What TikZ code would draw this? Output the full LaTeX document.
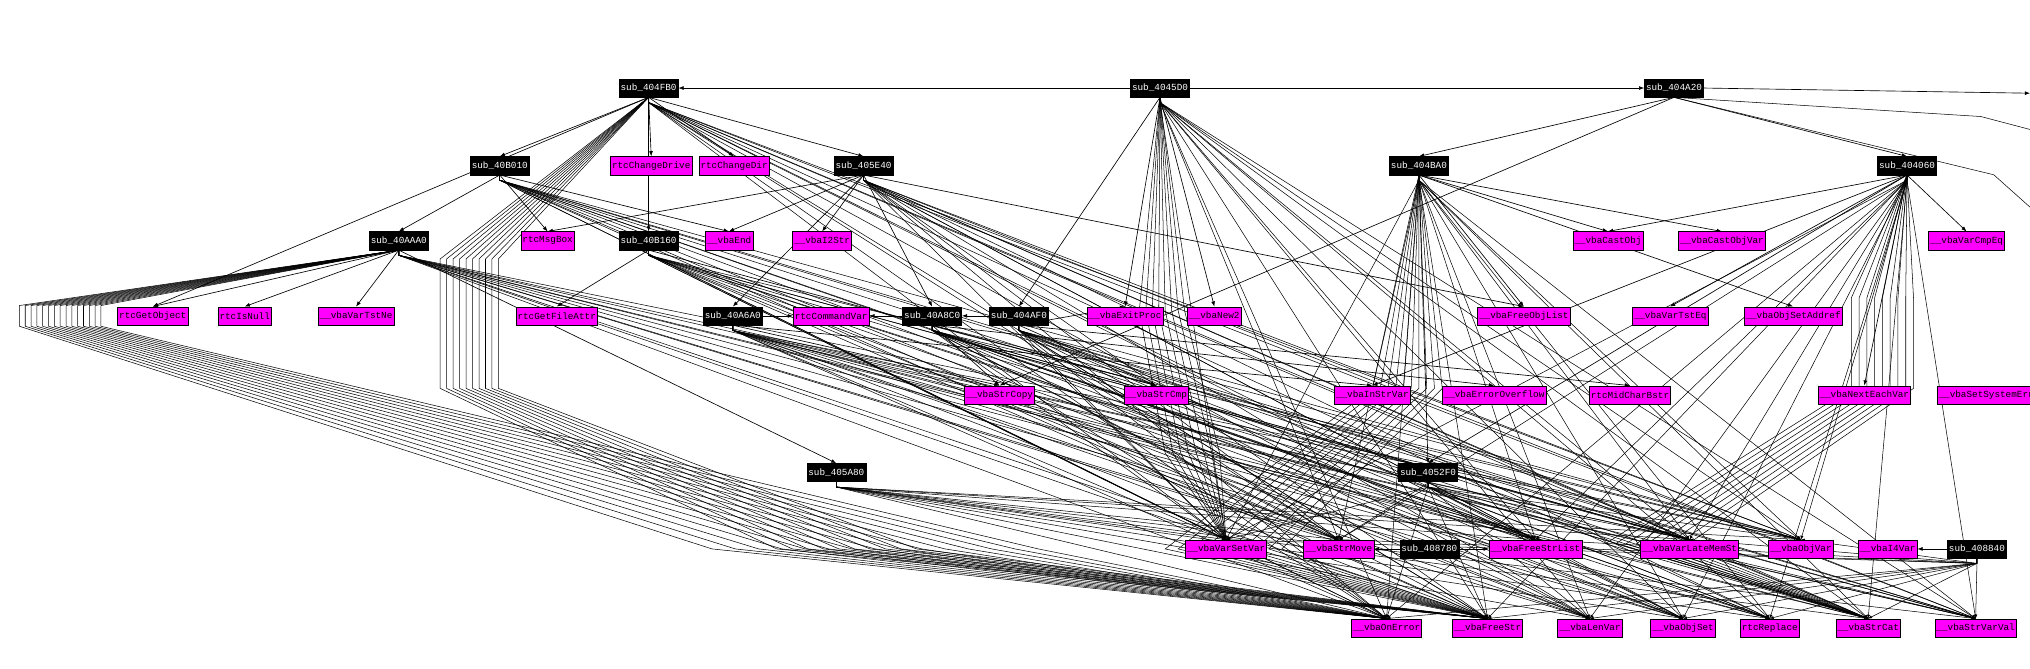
\documentclass[tikz,border=0pt]{standalone}
\usepackage{fontspec}
\setmainfont{Liberation Mono}
\usetikzlibrary{arrows.meta,backgrounds}
\definecolor{mag}{RGB}{255,0,255}
\begin{document}
\begin{tikzpicture}[x=1pt,y=-1pt,
 base/.style={draw=black,rectangle,minimum height=14pt,inner xsep=1.2pt,inner ysep=0pt,font=\fontsize{7.2}{7.2}\selectfont},
 sub/.style={base,fill=black,text=white},
 lib/.style={base,fill=mag,text=black},
 e/.style={draw=black,line width=0.5pt,-{Latex[length=4pt,width=3pt]}},
 f/.style={draw=black,line width=0.4pt}]
\useasboundingbox (0,0) rectangle (1568,516);
\clip (0,0) rectangle (1568,516);
% row 1
\node[sub] (s404FB0) at (501,68) {sub\_404FB0};
\node[sub] (s4045D0) at (896,68) {sub\_4045D0};
\node[sub] (s404A20) at (1293,68) {sub\_404A20};
% row 2
\node[sub] (s40B010) at (386,128) {sub\_40B010};
\node[lib] (rChDrive) at (503,128) {rtcChangeDrive};
\node[lib] (rChDir) at (567,128) {rtcChangeDir};
\node[sub] (s405E40) at (667,128) {sub\_405E40};
\node[sub] (s404BA0) at (1096,128) {sub\_404BA0};
\node[sub] (s404060) at (1473,128) {sub\_404060};
% row 3
\node[sub] (s40AAA0) at (308,186) {sub\_40AAA0};
\node[lib] (rMsgBox) at (423,186) {rtcMsgBox};
\node[sub] (s40B160) at (501,186) {sub\_40B160};
\node[lib] (vEnd) at (563,186) {\_\_vbaEnd};
\node[lib] (vI2Str) at (635,186) {\_\_vbaI2Str};
\node[lib] (vCastObj) at (1242,186) {\_\_vbaCastObj};
\node[lib] (vCastObjVar) at (1330,186) {\_\_vbaCastObjVar};
\node[lib] (vVarCmpEq) at (1519,186) {\_\_vbaVarCmpEq};
% row 4
\node[lib] (rGetObject) at (118,244) {rtcGetObject};
\node[lib] (rIsNull) at (189,244) {rtcIsNull};
\node[lib] (vVarTstNe) at (275,244) {\_\_vbaVarTstNe};
\node[lib] (rGetFileAttr) at (430,244) {rtcGetFileAttr};
\node[sub] (s40A6A0) at (566,244) {sub\_40A6A0};
\node[lib] (rCommandVar) at (642,244) {rtcCommandVar};
\node[sub] (s40A8C0) at (720,244) {sub\_40A8C0};
\node[sub] (s404AF0) at (787,244) {sub\_404AF0};
\node[lib] (vExitProc) at (869,244) {\_\_vbaExitProc};
\node[lib] (vNew2) at (938,244) {\_\_vbaNew2};
\node[lib] (vFreeObjList) at (1177,244) {\_\_vbaFreeObjList};
\node[lib] (vVarTstEq) at (1290,244) {\_\_vbaVarTstEq};
\node[lib] (vObjSetAddref) at (1385,244) {\_\_vbaObjSetAddref};
% row 5
\node[lib] (vStrCopy) at (772,305) {\_\_vbaStrCopy};
\node[lib] (vStrCmp) at (893,305) {\_\_vbaStrCmp};
\node[lib] (vInStrVar) at (1060,305) {\_\_vbaInStrVar};
\node[lib] (vErrOvf) at (1154,305) {\_\_vbaErrorOverflow};
\node[lib] (rMidCharBstr) at (1259,305) {rtcMidCharBstr};
\node[lib] (vNextEachVar) at (1440,305) {\_\_vbaNextEachVar};
\node[lib,anchor=west] (vSetSysErr) at (1496,305) {\_\_vbaSetSystemError};
% row 6
\node[sub] (s405A80) at (646,365) {sub\_405A80};
\node[sub] (s4052F0) at (1103,365) {sub\_4052F0};
% row 7
\node[lib] (vVarSetVar) at (947,424) {\_\_vbaVarSetVar};
\node[lib] (vStrMove) at (1034,424) {\_\_vbaStrMove};
\node[sub] (s408780) at (1104,424) {sub\_408780};
\node[lib] (vFreeStrList) at (1186,424) {\_\_vbaFreeStrList};
\node[lib] (vVarLateMemSt) at (1305,424) {\_\_vbaVarLateMemSt};
\node[lib] (vObjVar) at (1391,424) {\_\_vbaObjVar};
\node[lib] (vI4Var) at (1458,424) {\_\_vbaI4Var};
\node[sub] (s408840) at (1527,424) {sub\_408840};
% row 8
\node[lib] (vOnError) at (1071,485) {\_\_vbaOnError};
\node[lib] (vFreeStr) at (1149,485) {\_\_vbaFreeStr};
\node[lib] (vLenVar) at (1228,485) {\_\_vbaLenVar};
\node[lib] (vObjSet) at (1300,485) {\_\_vbaObjSet};
\node[lib] (rReplace) at (1367,485) {rtcReplace};
\node[lib] (vStrCat) at (1443,485) {\_\_vbaStrCat};
\node[lib] (vStrVarVal) at (1526,485) {\_\_vbaStrVarVal};
\coordinate (rOut1) at (1568,72);
\coordinate (rOut2) at (1568,100);
\coordinate (rOut3) at (1568,160);
\begin{scope}[on background layer]
\fill[white] (0,0) rectangle (1568,516);
% same-row edges
\draw[e] (s4045D0) -- (s404FB0);
\draw[e] (s4045D0) -- (s404A20);
\draw[e] (s40A6A0) -- (rCommandVar);
\draw[e] (s40A8C0) -- (rCommandVar);
\draw[e] (s404AF0) -- (s40A8C0);
\draw[e] (s408780) -- (vStrMove);
\draw[e] (s408780) -- (vFreeStrList);
\draw[e] (s408840) -- (vI4Var);
% downward edges
\foreach \a/\b in {s404FB0/s40B010,s404FB0/rChDrive,s404FB0/rChDir,s404FB0/s405E40,s404FB0/s40B160,s404FB0/rGetObject,
 s40B010/s40AAA0,s40B010/rMsgBox,s40B010/vEnd,s405E40/rMsgBox,s405E40/vEnd,s405E40/vI2Str,s405E40/s40A8C0,s405E40/s40A6A0,
 s40AAA0/rGetObject,s40AAA0/rIsNull,s40AAA0/vVarTstNe,s40B160/rGetFileAttr,s4045D0/s404AF0,s4045D0/vNew2,s4045D0/vExitProc,
 s404A20/s404BA0,s404A20/s404060,s404A20/vStrCopy,s404BA0/vCastObj,s404BA0/vCastObjVar,s404BA0/vObjSetAddref,s404BA0/vFreeObjList,
 s404060/vCastObj,s404060/vVarCmpEq,s404060/vVarTstEq,s404060/vInStrVar,s404060/vNextEachVar,
 s40A8C0/vStrCopy,s40A8C0/vStrCmp,s404AF0/vStrCmp,s404AF0/vExitProc,s40A6A0/vStrCopy,s40A6A0/vInStrVar,s40A8C0/vErrOvf,s404AF0/rMidCharBstr,
 s40AAA0/s405A80,s405E40/vFreeObjList,s404BA0/s4052F0,s404060/s4052F0,s40B160/vStrCmp}
 \draw[e] (\a.south) -- (\b.north);
% dense bundles to lower rows
\foreach \a in {s404FB0,s40B010,s405E40,s40AAA0,s40B160,s40A6A0,s40A8C0,s404AF0,s4045D0,s404BA0,s404060,s405A80,s4052F0,s408840}
 \foreach \b in {vVarSetVar,vStrMove,vFreeStrList,vVarLateMemSt,vObjVar,vOnError,vFreeStr,vLenVar,vObjSet,rReplace,vStrCat,vStrVarVal}
  \draw[f,-{Latex[length=3pt,width=2.5pt]}] (\a.south) -- ++(0,4) -- (\b.north);
% bundles
\foreach \i in {0,...,14}
 \draw[f] (s40AAA0.south) -- (15+\i*4.5,236) -- (15+\i*4.5,252) -- (550+\i*18,424) -- (vOnError.north);
\foreach \i in {0,...,9}
 \draw[f] (s404FB0.south) -- (340+\i*5,200) -- (340+\i*5,300) -- (600+\i*12,424) -- (vFreeStr.north);
\foreach \i in {0,...,9}
 \draw[f] (s404BA0.south) -- (1060+\i*6,300) -- (900+\i*10,424) -- (vFreeStr.north);
\foreach \i in {0,...,8}
 \draw[f] (s404060.south) -- (1430+\i*6,230) -- (1430+\i*6,300) -- (1240+\i*8,420) -- (vStrCat.north);
\foreach \i in {0,...,7}
 \draw[f] (s4045D0.south) -- (880+\i*5,240) -- (900+\i*6,350) -- (vVarSetVar.north);
\draw[e] (s404A20.east) -- (rOut1);
\draw[f] (s404A20.south) -- (1530,90) -- (rOut2);
\draw[f] (s404A20.south) -- (1540,135) -- (rOut3);
\end{scope}
\end{tikzpicture}
\end{document}
